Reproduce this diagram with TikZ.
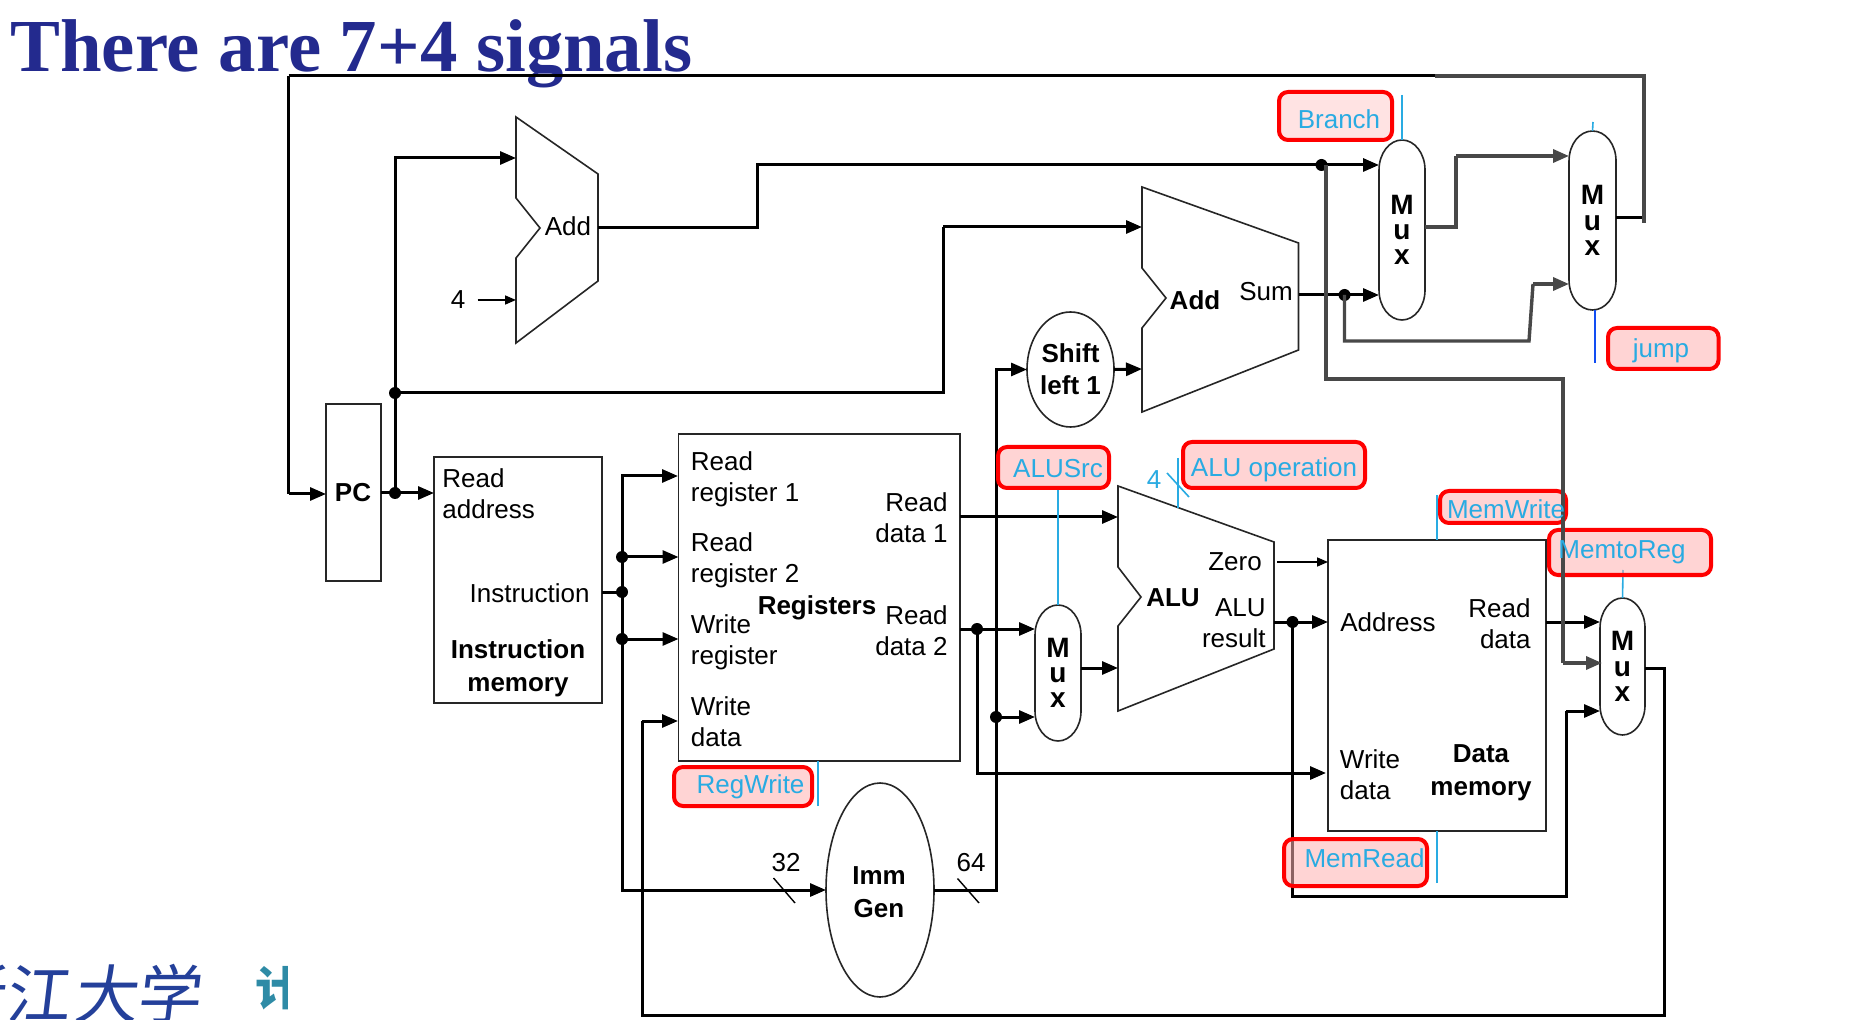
\documentclass[tikz,border=0pt]{standalone}
\usepackage{fontspec}
\setmainfont{Liberation Sans}
\newfontfamily\titlefont{Liberation Serif}
\newfontfamily\cjkfont{Noto Sans CJK SC}
\usetikzlibrary{arrows.meta,shapes.geometric}
\definecolor{titleblue}{HTML}{232A8E}
\definecolor{ctrlblue}{HTML}{29ABE2}
\definecolor{wiregrey}{HTML}{484848}
\definecolor{logoblue}{HTML}{24409A}
\definecolor{logoteal}{HTML}{2E8BA6}
\tikzset{
  outline/.style={draw=black!85,line width=0.8pt},
  wire/.style={draw=black,line width=1.5pt},
  wirearrow/.style={wire,-{Triangle[length=8pt,width=6.5pt]}},
  greywire/.style={draw=wiregrey,line width=1.7pt},
  greyarrow/.style={greywire,-{Triangle[length=8pt,width=6.5pt]}},
  finearrow/.style={draw=black,line width=0.8pt,-{Triangle[length=5.5pt,width=4.5pt]}},
  tick/.style={draw=black,line width=0.7pt},
  ctrl/.style={draw=ctrlblue,line width=0.8pt},
  dot/.style={circle,fill=black,inner sep=0pt,minimum size=6pt},
  blockbox/.style 2 args={outline,rectangle,inner sep=0pt,outer sep=0pt,minimum width=#1*0.5pt,minimum height=#2*0.5pt},
  blobnode/.style 2 args={outline,ellipse,inner sep=0pt,outer sep=0pt,minimum width=#1*0.5pt,minimum height=#2*0.5pt,align=center,font=\fontsize{13}{16}\selectfont\bfseries},
  muxnode/.style 2 args={rectangle,inner sep=0pt,outer sep=0pt,minimum width=#1*0.5pt,minimum height=#2*0.5pt,align=center,font=\fontsize{14}{12.6}\selectfont\bfseries},
  plain/.style={inner sep=0pt,align=left,font=\fontsize{13}{15.5}\selectfont},
  plainr/.style={inner sep=0pt,align=right,font=\fontsize{13}{15.5}\selectfont},
  strong/.style={inner sep=0pt,align=center,font=\fontsize{13}{16.5}\selectfont\bfseries},
  signalbox/.style 2 args={rectangle,draw=red,line width=2pt,rounded corners=4.5pt,fill=red!30!white,fill opacity=0.55,inner sep=0pt,minimum width=#1*0.5pt,minimum height=#2*0.5pt},
  signaltext/.style={inner sep=0pt,text=ctrlblue,font=\fontsize{13}{15}\selectfont},
}
% Pill-shaped multiplexer outline traced around a named node
\newcommand{\muxoutline}[1]{\draw[outline]
  ([yshift=-15pt]#1.north west) .. controls ([yshift=-6.7pt]#1.north west) and ([xshift=5.2pt]#1.north west) .. (#1.north)
  .. controls ([xshift=-5.2pt]#1.north east) and ([yshift=-6.7pt]#1.north east) .. ([yshift=-15pt]#1.north east)
  -- ([yshift=15pt]#1.south east)
  .. controls ([yshift=6.7pt]#1.south east) and ([xshift=-5.2pt]#1.south east) .. (#1.south)
  .. controls ([xshift=5.2pt]#1.south west) and ([yshift=6.7pt]#1.south west) .. ([yshift=15pt]#1.south west) -- cycle;}
\begin{document}
\begin{tikzpicture}[x=0.5pt,y=-0.5pt]
\useasboundingbox (0,0) rectangle (1850,1020);
\fill[white] (0,0) rectangle (1850,1020);

% Heading
\node[anchor=base west,inner sep=0pt,text=titleblue,font=\fontsize{37.4}{40}\selectfont\titlefont\bfseries] (heading) at (10,72) {There are 7+4 signals};

% University mark in the lower left corner, cut by the page edge
\begin{scope}
  \clip (0,940) rectangle (200,1020);
  \node[inner sep=0pt,text=logoblue,xslant=0.12,transform shape,font=\fontsize{32}{34}\selectfont\cjkfont] (markA) at (-25,994) {浙};
  \node[inner sep=0pt,text=logoblue,xslant=0.12,transform shape,font=\fontsize{32}{34}\selectfont\cjkfont] (markB) at (40,994) {江};
  \node[inner sep=0pt,text=logoblue,xslant=0.12,transform shape,font=\fontsize{32}{34}\selectfont\cjkfont] (markC) at (108,994) {大};
  \node[inner sep=0pt,text=logoblue,xslant=0.12,transform shape,font=\fontsize{32}{34}\selectfont\cjkfont] (markD) at (171,994) {学};
\end{scope}
\begin{scope}
  \clip (250,950) rectangle (287,1020);
  \node[inner sep=0pt,text=logoteal,font=\fontsize{23}{25}\selectfont\cjkfont\bfseries] (markE) at (278,988) {计};
\end{scope}

% Functional units
\node[blockbox={55}{177}] (pc) at (353.5,492.5) {};
\node[blockbox={168}{246}] (imem) at (518,580) {};
\node[blockbox={281.5}{327}] (regs) at (819.25,597.5) {};
\node[blockbox={218}{291}] (dm) at (1437,685.5) {};
\node[blobnode={87}{115}] (shift) at (1070.5,369.5) {Shift\\left 1};
\node[blobnode={108}{214}] (imm) at (880,890) {};
\node[strong] (immName) at (879,892) {Imm\\Gen};
\node[muxnode={46}{180}] (mux1) at (1402,230) {M\\u\\x};
\node[muxnode={47}{179}] (mux2) at (1592.5,220.5) {M\\u\\x};
\node[muxnode={46}{136}] (muxA) at (1058,673) {M\\u\\x};
\node[muxnode={45}{137}] (mux3) at (1622.5,666.5) {M\\u\\x};
\muxoutline{mux1}
\muxoutline{mux2}
\muxoutline{muxA}
\muxoutline{mux3}

% Adders and ALU, each a trapezoid with a notch in its left side
\draw[outline] (516,117) -- (598,174) -- (598,281) -- (516,343) -- (516,258) -- (540,228) -- (516,198) -- cycle;
\draw[outline] (1142,187) -- (1298.5,243) -- (1298.5,350) -- (1142,412) -- (1142,328) -- (1166,298) -- (1142,268) -- cycle;
\draw[outline] (1118,486) -- (1274,542) -- (1274,649) -- (1118,711) -- (1118,626) -- (1141,597) -- (1118,567) -- cycle;

% Ports and wire bends
\coordinate (addIn1) at (516,158);
\coordinate (addIn2) at (516,300);
\coordinate (addOut) at (598,228);
\coordinate (addBend) at (757,165);
\coordinate (add2Bend) at (943,227);
\coordinate (add2In1) at (1142,227);
\coordinate (add2In2) at (1142,369);
\coordinate (add2Out) at (1298.5,295);
\coordinate (sumLow) at (1529,341);
\coordinate (sumRise) at (1533,284);
\coordinate (aluIn1) at (1118,517);
\coordinate (aluIn2) at (1118,668);
\coordinate (aluZero) at (1277,562);
\coordinate (aluOut) at (1274,622);
\coordinate (mux1Out) at (1425,227);
\coordinate (mux1Bend) at (1456,156);
\coordinate (mux2Out) at (1616,218);
\coordinate (mux2Tail) at (1644,223);
\coordinate (loopCorner) at (1644,76);
\coordinate (loopJoin) at (1435,76);
\coordinate (loopLeft) at (288.5,76);
\coordinate (pcIn) at (326,494);
\coordinate (bypassTap) at (1326,165);
\coordinate (bypassA) at (1326,379);
\coordinate (bypassB) at (1563,663);
\coordinate (dmBypassEnd) at (1602,663);
\coordinate (memLow) at (1292.5,896);
\coordinate (memRise) at (1566,711);
\coordinate (wbOut) at (1645,668);
\coordinate (wbRight) at (1664,1015);
\coordinate (wbLeft) at (642,1015);
\coordinate (regData) at (678,721);
\coordinate (wbRise) at (642,721);
\coordinate (dmWrite) at (1326,773);
\coordinate (reg1In) at (678,476);

% Junction dots
\node[dot] (jPC) at (395,493) {};
\node[dot] (jAdd) at (395,393) {};
\node[dot] (jInstr) at (622,592) {};
\node[dot] (jR2) at (622,557) {};
\node[dot] (jR3) at (622,639) {};
\node[dot] (jBr) at (1321.5,165) {};
\node[dot] (jSum) at (1344.5,295) {};
\node[dot] (jImm) at (996,717) {};
\node[dot] (jRd2) at (977,629) {};
\node[dot] (jAlu) at (1292.5,622) {};

% Datapath wires
\draw[wirearrow] (pcIn -| loopLeft) -- (pcIn);
\draw[wire] (loopLeft) -- (pcIn -| loopLeft);
\draw[wire] (loopLeft) -- (loopJoin);
\draw[wirearrow] (jPC.center) -- (imem.west |- jPC);
\draw[wire] (pc.east |- jPC) -- (jPC.center);
\draw[wirearrow] (jPC.center) |- (addIn1);
\draw[wire] (jAdd.center) -| (add2Bend);
\draw[wirearrow] (add2Bend) -- (add2In1);
\draw[wire] (addOut) -| (addBend) -- (jBr.center);
\draw[wirearrow] (jBr.center) -- (mux1.west |- jBr);
\draw[wire] (add2Out) -- (jSum.center);
\draw[wirearrow] (jSum.center) -- (mux1.west |- jSum);
\draw[wire] (jInstr.center) -- (imem.east |- jInstr);
\draw[wirearrow] (jInstr.center) |- (reg1In);
\draw[wirearrow] (jR2.center) -- (regs.west |- jR2);
\draw[wirearrow] (jR3.center) -- (regs.west |- jR3);
\draw[wirearrow] (jInstr.center) |- (imm.west);
\draw[wirearrow] (wbRise) -- (regData);
\draw[wire] (wbOut) -| (wbRight) -- (wbLeft) -- (wbRise);
\draw[wire] (imm.east) -| (jImm.center);
\draw[wirearrow] (jImm.center) |- (shift.west);
\draw[wirearrow] (jImm.center) -- (muxA.west |- jImm);
\draw[wirearrow] (shift.east) -- (add2In2);
\draw[wire] (regs.east |- jRd2) -- (jRd2.center);
\draw[wirearrow] (jRd2.center) -- (muxA.west |- jRd2);
\draw[wirearrow] (jRd2.center) |- (dmWrite);
\draw[wirearrow] (regs.east |- aluIn1) -- (aluIn1);
\draw[wirearrow] (muxA.east |- aluIn2) -- (aluIn2);
\draw[wire] (aluOut) -- (jAlu.center);
\draw[wirearrow] (jAlu.center) -- (dm.west |- jAlu);
\draw[wire] (jAlu.center) -- (memLow) -| (memRise);
\draw[wirearrow] (memRise) -- (mux3.west |- memRise);
\draw[wirearrow] (dm.east |- jAlu) -- (mux3.west |- jAlu);
\draw[finearrow] (aluZero) -- (dm.west |- aluZero);

% Control lines
\coordinate (branchEnd) at (1402,95);
\coordinate (jumpTop) at (1593,122);
\coordinate (jumpBottom) at (1595,363);
\coordinate (aluSrcEnd) at (1058,488);
\coordinate (aluOpTop) at (1178,458);
\coordinate (aluOpEnd) at (1178,508);
\coordinate (writeTop) at (1437,495);
\coordinate (readBottom) at (1437,883);
\coordinate (toRegEnd) at (1623,570);
\coordinate (regWriteEnd) at (818,806);
\draw[ctrl] (branchEnd) -- (mux1.north);
\draw[ctrl] (jumpTop) -- (mux2.north);
\draw[draw=blue!55!ctrlblue,line width=0.8pt] (jumpBottom) -- (jumpBottom |- mux2.south);
\draw[ctrl] (aluSrcEnd) -- (muxA.north);
\draw[ctrl] (aluOpTop) -- (aluOpEnd);
\draw[ctrl] (1167,473) -- (1189,497);
\draw[ctrl] (writeTop) -- (dm.north);
\draw[ctrl] (readBottom) -- (dm.south);
\draw[ctrl] (toRegEnd) -- (mux3.north);
\draw[ctrl] (regWriteEnd) -- (regWriteEnd |- regs.south);

% Signal call-outs
\node[signalbox={113}{48},fill=red!20!white] (brBox) at (1335.5,116) {};
\node[signalbox={110.5}{41}] (jumpBox) at (1663.25,348.5) {};
\node[signalbox={111}{41}] (srcBox) at (1053.5,467.5) {};
\node[signalbox={182}{46}] (opBox) at (1274,465) {};
\node[signalbox={126}{32}] (mwBox) at (1503,507) {};
\node[signalbox={162}{45}] (mtrBox) at (1630,552.5) {};
\node[signalbox={143}{47}] (mrBox) at (1355.5,862.5) {};
\node[signalbox={138}{39}] (rwBox) at (743,786.5) {};

% Wires drawn over the call-outs
\draw[greywire] (mux1Out) -| (mux1Bend);
\draw[greyarrow] (mux1Bend) -- (mux2.west |- mux1Bend);
\draw[greywire] (jSum.center) |- (sumLow) -- (sumRise);
\draw[greyarrow] (sumRise) -- (mux2.west |- sumRise);
\draw[wire] (mux2Out) -- (mux2Out -| mux2Tail);
\draw[greywire] (mux2Tail) -- (loopCorner) -- (loopJoin);
\draw[greywire] (bypassTap) -- (bypassA) -| (bypassB);
\draw[greyarrow] (bypassB) -- (dmBypassEnd);

% Bus width marks
\draw[tick] (773.5,878) -- (795,903);
\draw[tick] (957.5,878.5) -- (979,903);
\node[plain] (w32) at (786,863) {32};
\node[plain] (w64) at (971,863) {64};

% Constant input of the program counter adder
\node[plain] (four) at (458,300) {4};
\draw[finearrow] ([xshift=6pt]four.east) -- (addIn2);

% Unit names
\node[strong] (pcName) at (353,493) {PC};
\node[plain] (addName) at (568,226) {Add};
\node[strong] (add2Name) at (1195,300) {Add};
\node[plain] (sumName) at (1266,292) {Sum};
\node[strong] (aluName) at (1173,598) {ALU};
\node[plain] (zeroName) at (1235,562) {Zero};
\node[plainr,anchor=east] (aluRes) at (1266,623.5) {ALU\\result};
\node[plain,anchor=west] (readAddr) at (442,493.5) {Read\\address};
\node[plainr,anchor=east] (instrOut) at (590,593) {Instruction};
\node[strong] (imemName) at (518,668.5) {Instruction\\memory};
\node[plain,anchor=west] (rr1) at (690.5,479.5) {Read\\register 1};
\node[plain,anchor=west] (rr2) at (690.5,560.5) {Read\\register 2};
\node[plain,anchor=west] (wr) at (690.5,642) {Write\\register};
\node[plain,anchor=west] (wd) at (690.5,721.5) {Write\\data};
\node[strong] (regsName) at (817,607.5) {Registers};
\node[plainr,anchor=east] (rd1) at (948,518) {Read\\data 1};
\node[plainr,anchor=east] (rd2) at (948,631) {Read\\data 2};
\node[plain] (dmAddr) at (1388,622) {Address};
\node[plainr,anchor=east] (dmRead) at (1531,624) {Read\\data};
\node[plain,anchor=west] (dmWd) at (1339.5,774.5) {Write\\data};
\node[strong] (dmName) at (1481,772.5) {Data\\memory};

% Signal names
\node[signaltext] (brText) at (1339,119) {Branch};
\node[signaltext] (jumpText) at (1661,351) {jump};
\node[signaltext] (srcText) at (1058,469) {ALUSrc};
\node[signaltext] (opText) at (1274,470) {ALU operation};
\node[signaltext] (four2) at (1154,480) {4};
\node[signaltext] (mwText) at (1506,509) {MemWrite};
\node[signaltext] (mtrText) at (1622,552.5) {MemtoReg};
\node[signaltext] (mrText) at (1364.5,858) {MemRead};
\node[signaltext] (rwText) at (750.5,787) {RegWrite};
\end{tikzpicture}
\end{document}
